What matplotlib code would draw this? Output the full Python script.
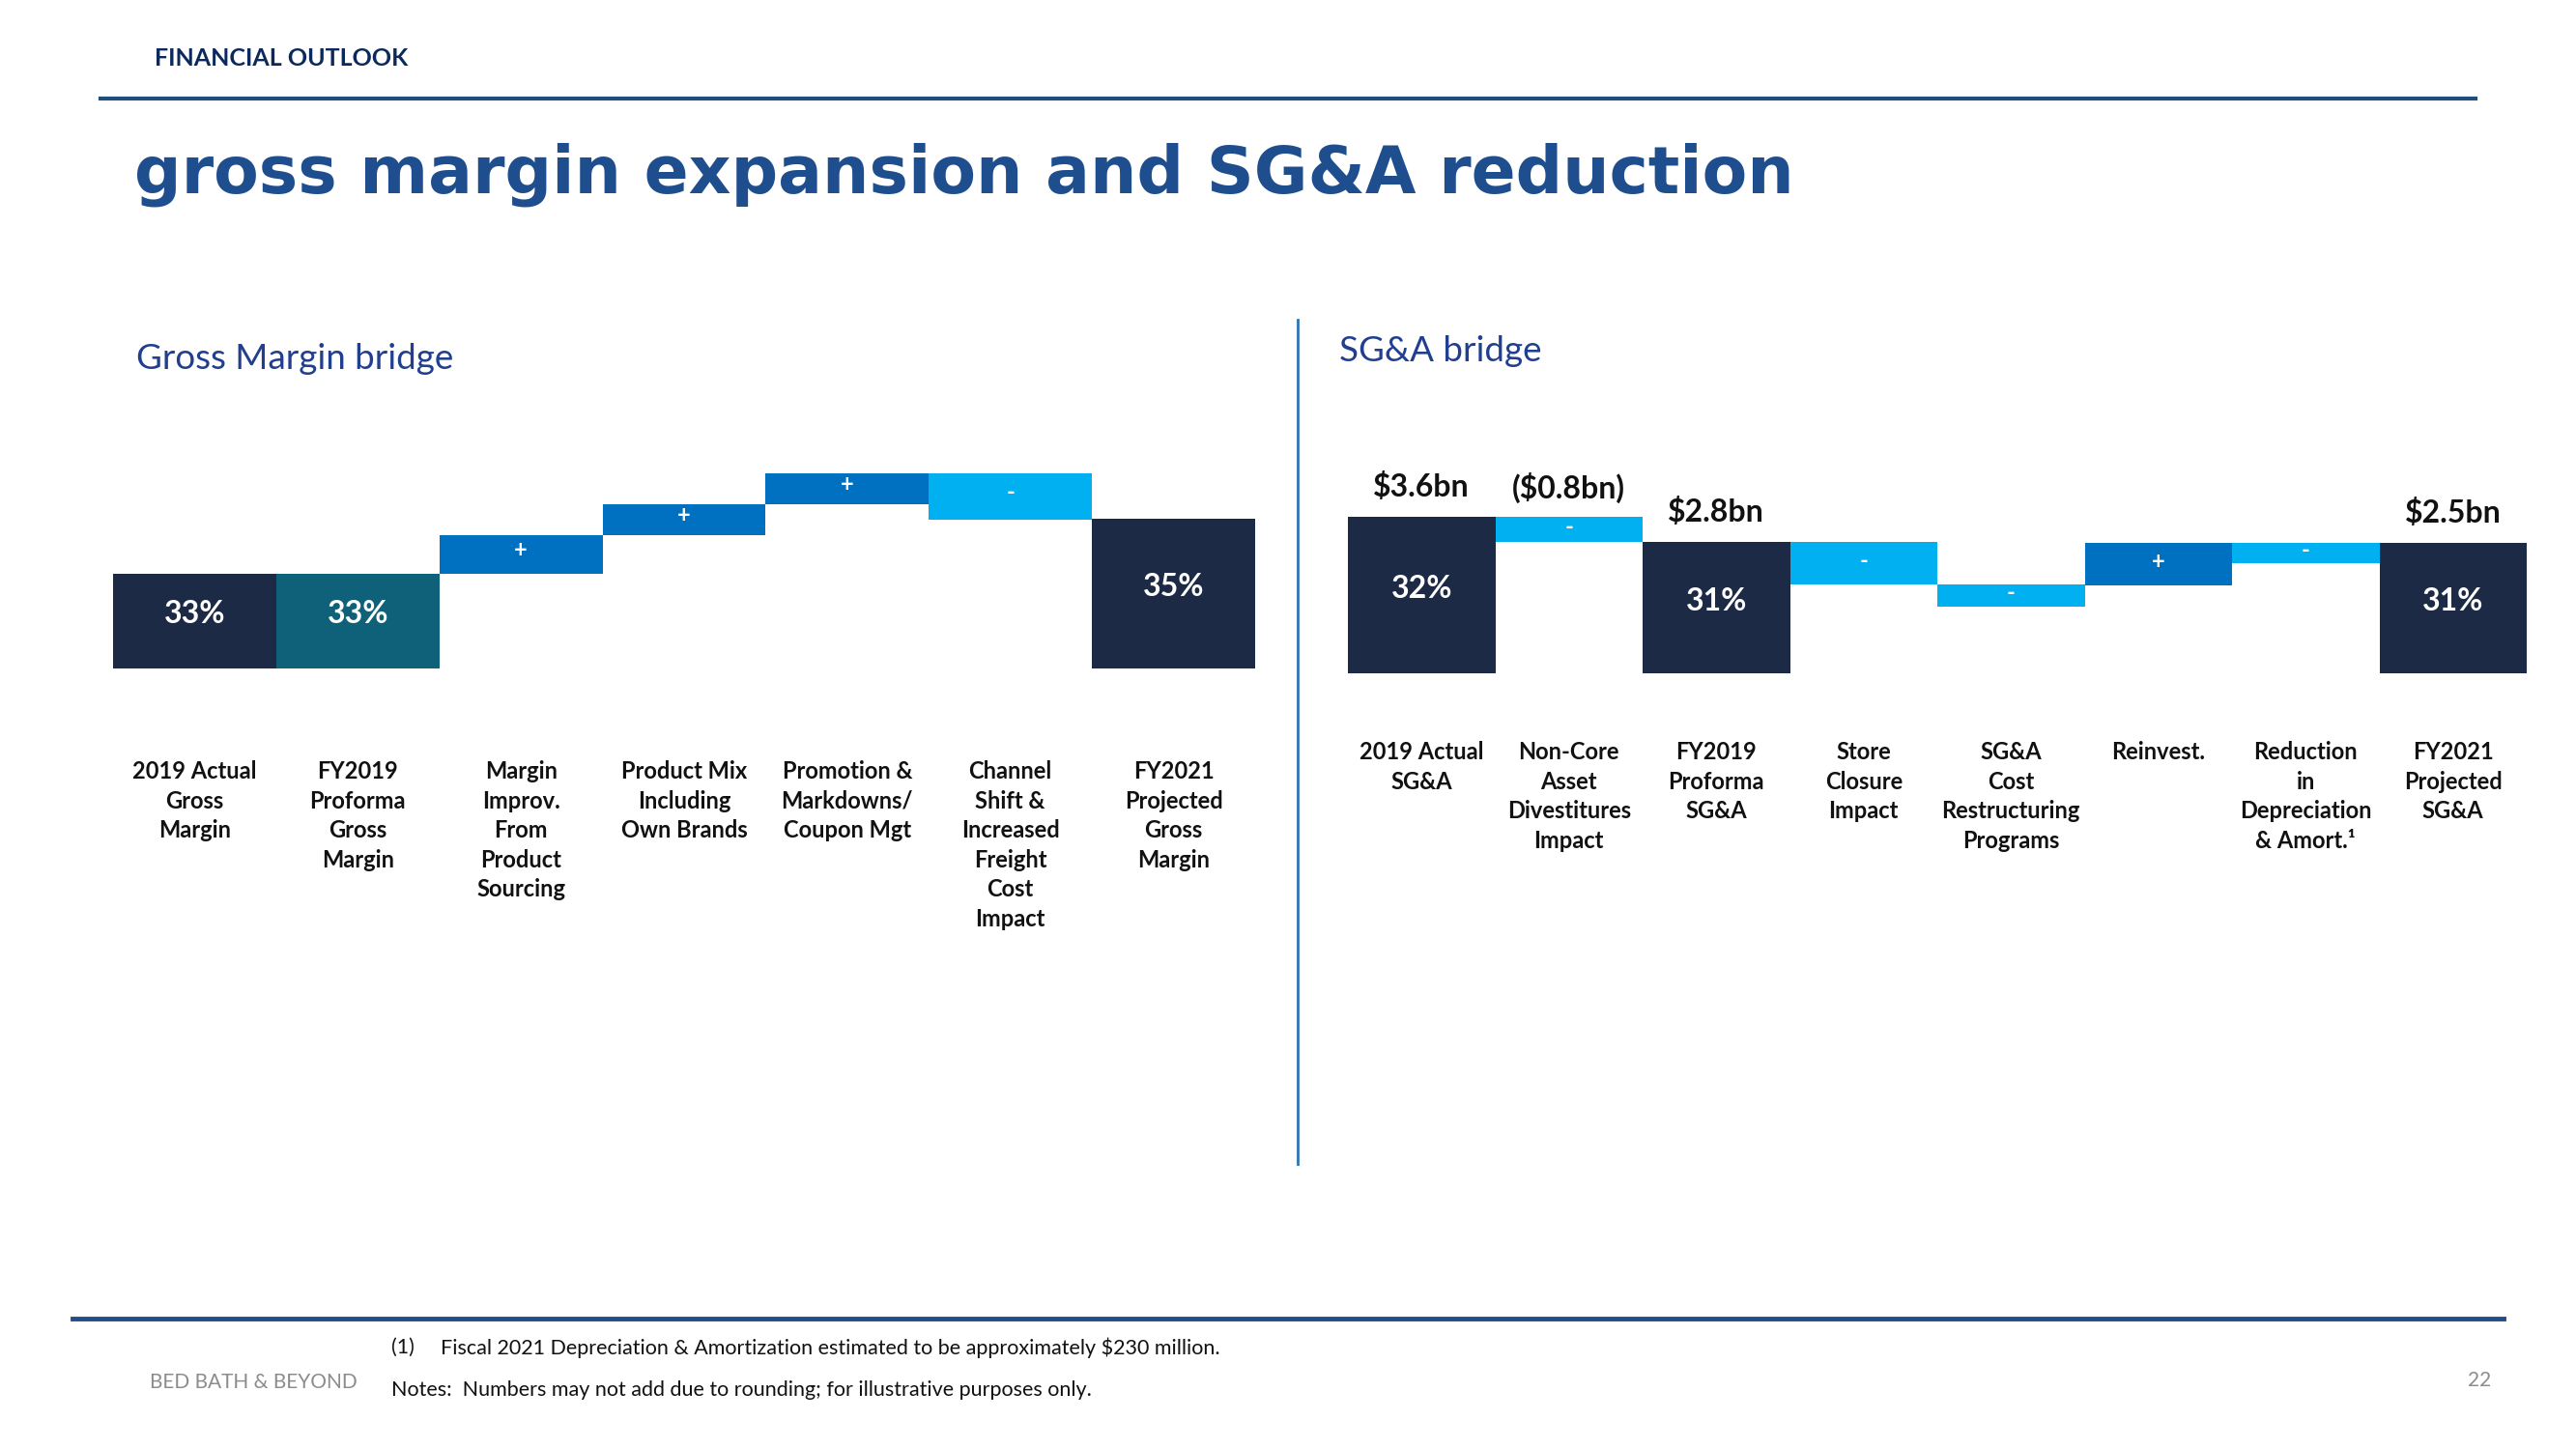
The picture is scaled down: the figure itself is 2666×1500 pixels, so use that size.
"""
Gross margin and SG&A bridge charts (waterfall style), slide recreation.
"""

import matplotlib.pyplot as plt
from matplotlib.lines import Line2D
from matplotlib.transforms import blended_transform_factory

plt.rcParams["font.family"] = ["Lato", "DejaVu Sans"]

W, H = 2666, 1500

# ---------------------------------------------------------------------------
# Data
# ---------------------------------------------------------------------------
gm_labels = [
    "2019 Actual\nGross\nMargin",
    "FY2019\nProforma\nGross\nMargin",
    "Margin\nImprov.\nFrom\nProduct\nSourcing",
    "Product Mix\nIncluding\nOwn Brands",
    "Promotion &\nMarkdowns/\nCoupon Mgt",
    "Channel\nShift &\nIncreased\nFreight\nCost\nImpact",
    "FY2021\nProjected\nGross\nMargin",
]
gm_kind = ["total", "pro", "up", "up", "up", "down", "total"]
gm_values = [33.0, 33.0, 1.4, 1.1, 1.15, -1.7, 35.0]   # % (steps illustrative)
gm_text = ["33%", "33%", "+", "+", "+", "-", "35%"]

sga_labels = [
    "2019 Actual\nSG&A",
    "Non-Core\nAsset\nDivestitures\nImpact",
    "FY2019\nProforma\nSG&A",
    "Store\nClosure\nImpact",
    "SG&A\nCost\nRestructuring\nPrograms",
    "Reinvest.",
    "Reduction\nin\nDepreciation\n& Amort.\u00b9",
    "FY2021\nProjected\nSG&A",
]
sga_kind = ["total", "down", "total", "down", "down", "up", "down", "total"]
# illustrative bar spans (bottom, top) as drawn on the slide
sga_low = [0.0, 13.6, 0.0, 9.2, 6.9, 9.1, 11.4, 0.0]
sga_high = [16.2, 16.2, 13.6, 13.6, 9.2, 13.5, 13.5, 13.5]
sga_text = ["32%", "-", "31%", "-", "-", "+", "-", "31%"]
sga_amount = ["$3.6bn", "($0.8bn)", "$2.8bn", "", "", "", "", "$2.5bn"]

COLORS = {"total": "#1C2A45", "pro": "#0E6178", "up": "#0070C0", "down": "#00B0F0"}
NAVY = "#0B2A5B"
BLUE_TITLE = "#1F4E8E"
SUB_BLUE = "#213F8F"

fig = plt.figure(figsize=(W / 100, H / 100), dpi=100)


def fx(px):
    return px / W


def fy(py):
    return 1 - py / H


# ---------------------------------------------------------------------------
# Header / footer
# ---------------------------------------------------------------------------
fig.text(fx(160), fy(60), "FINANCIAL OUTLOOK", fontsize=18, fontweight="bold",
         color=NAVY, va="center", ha="left")
fig.add_artist(Line2D([fx(104), fx(2562)], [fy(102), fy(102)], color="#1F4E79", lw=3))
fig.text(fx(139), fy(199), "gross margin expansion and SG&A reduction", fontsize=49,
         fontweight="bold", color=BLUE_TITLE, family="DejaVu Sans", va="baseline", ha="left")

fig.text(fx(141), fy(372), "Gross Margin bridge", fontsize=26.5, color=SUB_BLUE,
         va="center", ha="left")
fig.text(fx(1386), fy(364), "SG&A bridge", fontsize=26.5, color=SUB_BLUE,
         va="center", ha="left")
fig.add_artist(Line2D([fx(1343), fx(1343)], [fy(331), fy(1205)], color="#2E75B6", lw=2))

fig.add_artist(Line2D([fx(75), fx(2591)], [fy(1365), fy(1365)], color="#1F4E8C", lw=3.5))
fig.text(fx(405), fy(1395), "(1)", fontsize=15.5, color="#111111", va="center")
fig.text(fx(456), fy(1395),
         "Fiscal 2021 Depreciation & Amortization estimated to be approximately $230 million.",
         fontsize=15.5, color="#111111", va="center")
fig.text(fx(405), fy(1439),
         "Notes:  Numbers may not add due to rounding; for illustrative purposes only.",
         fontsize=15.5, color="#111111", va="center")
fig.text(fx(155), fy(1431), "BED BATH & BEYOND", fontsize=15, color="#8C8C8C", va="center")
fig.text(fx(2578), fy(1429), "22", fontsize=15, color="#8C8C8C", va="center", ha="right")

# ---------------------------------------------------------------------------
# Gross margin bridge
# ---------------------------------------------------------------------------
ax1 = fig.add_axes([fx(117), fy(692), fx(1299 - 117), (692 - 440) / H])
base = 29.55
bottoms, heights = [], []
level = None
for kind, v in zip(gm_kind, gm_values):
    if kind in ("total", "pro"):
        bottoms.append(base)
        heights.append(v - base)
        level = v
    else:
        bottoms.append(min(level, level + v))
        heights.append(abs(v))
        level += v
xs = list(range(len(gm_values)))
ax1.bar(xs, heights, bottom=bottoms, width=1.0,
        color=[COLORS[k] for k in gm_kind], linewidth=0)
for x, b, h, t, k in zip(xs, bottoms, heights, gm_text, gm_kind):
    big = k in ("total", "pro")
    ax1.annotate(t, (x, b + h / 2), xytext=(0, 5 if big else 3), textcoords="offset points",
                 ha="center", va="center", color="white", fontweight="bold",
                 fontsize=23 if big else 17)
ax1.set_xlim(-0.5, len(xs) - 0.5)
ax1.set_ylim(base, base + 252 / 28.5)
ax1.axis("off")

tr1 = blended_transform_factory(ax1.transData, fig.transFigure)
for x, lab in zip(xs, gm_labels):
    fig.text(x, fy(787), lab, transform=tr1, ha="center", va="top", fontsize=17,
             fontweight="bold", color="#111111", linespacing=1.4)

# ---------------------------------------------------------------------------
# SG&A bridge
# ---------------------------------------------------------------------------
ax2 = fig.add_axes([fx(1395), fy(697), fx(2615 - 1395), (697 - 440) / H])
xs2 = list(range(len(sga_low)))
h2 = [hi - lo for lo, hi in zip(sga_low, sga_high)]
ax2.bar(xs2, h2, bottom=sga_low, width=1.0,
        color=[COLORS[k] for k in sga_kind], linewidth=0)
for x, lo, hi, t, k, amt in zip(xs2, sga_low, sga_high, sga_text, sga_kind, sga_amount):
    big = k == "total"
    ax2.annotate(t, (x, (lo + hi) / 2), xytext=(0, 5 if big else 2), textcoords="offset points",
                 ha="center", va="center", color="white", fontweight="bold",
                 fontsize=23 if big else 17)
    if amt:
        ax2.annotate(amt, (x, hi), xytext=(0, 22), textcoords="offset points",
                     ha="center", va="center", color="#111111", fontweight="bold",
                     fontsize=23)
ax2.set_xlim(-0.5, len(xs2) - 0.5)
ax2.set_ylim(0, 25.7)
ax2.axis("off")

tr2 = blended_transform_factory(ax2.transData, fig.transFigure)
for x, lab in zip(xs2, sga_labels):
    fig.text(x, fy(767), lab, transform=tr2, ha="center", va="top", fontsize=17,
             fontweight="bold", color="#111111", linespacing=1.4)

fig.savefig("out.png", dpi=100, facecolor="white")
print("Saved: out.png")
